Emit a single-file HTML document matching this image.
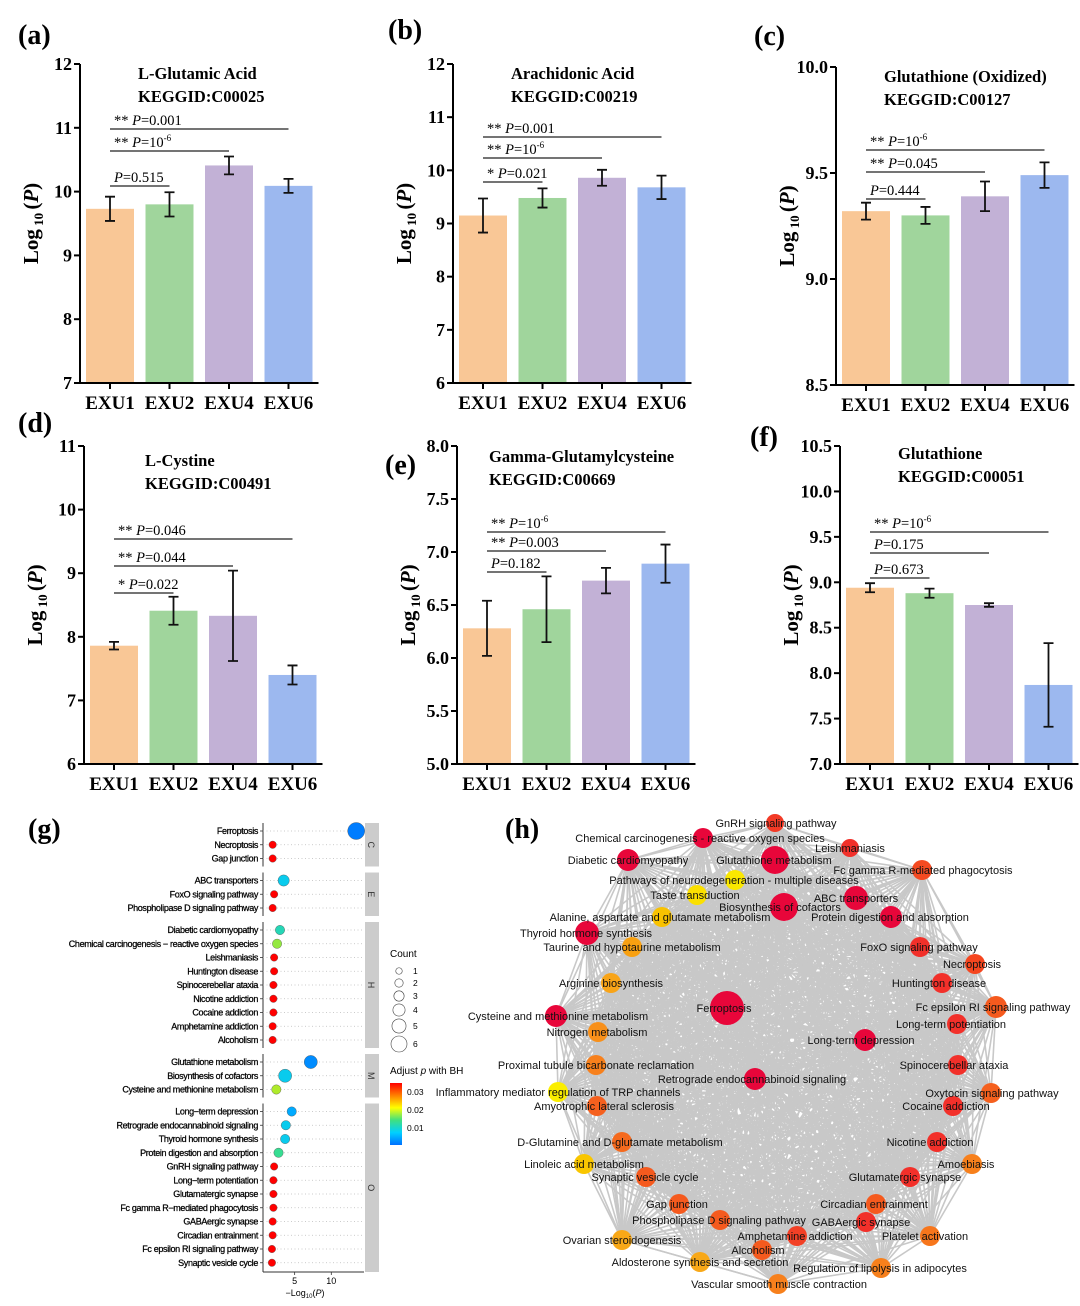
<!DOCTYPE html>
<html><head><meta charset="utf-8"><style>
html,body{margin:0;padding:0;background:#fff;}
svg{display:block;}
.serif{font-family:"Liberation Serif",serif;}
.sans{font-family:"Liberation Sans",sans-serif;}
</style></head>
<body>
<svg id="fig" width="1080" height="1306" viewBox="0 0 1080 1306" xmlns="http://www.w3.org/2000/svg"></svg>
<script>
// ---------- bar panel data ----------
const groups = ["EXU1","EXU2","EXU4","EXU6"];
const aValues = [9.73, 9.80, 10.41, 10.09];
const aErrors = [0.19, 0.19, 0.14, 0.11];
const aTicks = [7,8,9,10,11,12];
const bValues = [9.15, 9.48, 9.86, 9.68];
const bErrors = [0.32, 0.18, 0.15, 0.22];
const bTicks = [6,7,8,9,10,11,12];
const cValues = [9.32, 9.30, 9.39, 9.49];
const cErrors = [0.04, 0.04, 0.07, 0.06];
const cTicks = [8.5,9.0,9.5,10.0];
const dValues = [7.86, 8.41, 8.33, 7.40];
const dErrors = [0.06, 0.22, 0.71, 0.15];
const dTicks = [6,7,8,9,10,11];
const eValues = [6.28, 6.46, 6.73, 6.89];
const eErrors = [0.26, 0.31, 0.12, 0.18];
const eTicks = [5.0,5.5,6.0,6.5,7.0,7.5,8.0];
const fValues = [8.94, 8.88, 8.75, 7.87];
const fErrors = [0.05, 0.05, 0.02, 0.46];
const fTicks = [7.0,7.5,8.0,8.5,9.0,9.5,10.0,10.5];

// ---------- enrichment dot plot data (g) ----------
const gTerms = ["Ferroptosis","Necroptosis","Gap junction","ABC transporters","FoxO signaling pathway","Phospholipase D signaling pathway","Diabetic cardiomyopathy","Chemical carcinogenesis \u2212 reactive oxygen species","Leishmaniasis","Huntington disease","Spinocerebellar ataxia","Nicotine addiction","Cocaine addiction","Amphetamine addiction","Alcoholism","Glutathione metabolism","Biosynthesis of cofactors","Cysteine and methionine metabolism","Long\u2212term depression","Retrograde endocannabinoid signaling","Thyroid hormone synthesis","Protein digestion and absorption","GnRH signaling pathway","Long\u2212term potentiation","Glutamatergic synapse","Fc gamma R\u2212mediated phagocytosis","GABAergic synapse","Circadian entrainment","Fc epsilon RI signaling pathway","Synaptic vesicle cycle"];
const gGroups = ["C","C","C","E","E","E","H","H","H","H","H","H","H","H","H","M","M","M","O","O","O","O","O","O","O","O","O","O","O","O"];
const gLogP = [13.4,2.0,2.0,3.5,2.2,2.0,3.0,2.6,2.2,2.2,2.1,2.1,2.1,2.0,2.0,7.2,3.7,2.5,4.6,3.8,3.7,2.8,2.2,2.1,2.1,2.1,2.0,2.0,1.9,1.9];
const gCount = [6,1,1,3,1,1,2,2,1,1,1,1,1,1,1,4,4,2,2,2,2,2,1,1,1,1,1,1,1,1];
const gPadj = [0.003,0.034,0.034,0.009,0.034,0.034,0.012,0.018,0.034,0.034,0.034,0.034,0.034,0.034,0.034,0.004,0.009,0.019,0.006,0.009,0.009,0.014,0.034,0.034,0.034,0.034,0.034,0.034,0.034,0.034];
const gXTicks = [5,10];
const gCountLegend = [1,2,3,4,5,6];
const gPadjLegend = [0.03,0.02,0.01];

// ---------- network data (h) ----------
const hLabels = ["GnRH signaling pathway","Chemical carcinogenesis - reactive oxygen species","Leishmaniasis","Diabetic cardiomyopathy","Glutathione metabolism","Fc gamma R-mediated phagocytosis","Pathways of neurodegeneration - multiple diseases","Taste transduction","ABC transporters","Biosynthesis of cofactors","Protein digestion and absorption","Alanine, aspartate and glutamate metabolism","Thyroid hormone synthesis","Taurine and hypotaurine metabolism","FoxO signaling pathway","Necroptosis","Arginine biosynthesis","Huntington disease","Fc epsilon RI signaling pathway","Cysteine and methionine metabolism","Ferroptosis","Long-term potentiation","Nitrogen metabolism","Long-term depression","Spinocerebellar ataxia","Proximal tubule bicarbonate reclamation","Retrograde endocannabinoid signaling","Inflammatory mediator regulation of TRP channels","Amyotrophic lateral sclerosis","Oxytocin signaling pathway","Cocaine addiction","D-Glutamine and D-glutamate metabolism","Nicotine addiction","Linoleic acid metabolism","Amoebiasis","Synaptic vesicle cycle","Glutamatergic synapse","Gap junction","Circadian entrainment","Phospholipase D signaling pathway","GABAergic synapse","Amphetamine addiction","Platelet activation","Ovarian steroidogenesis","Alcoholism","Aldosterone synthesis and secretion","Regulation of lipolysis in adipocytes","Vascular smooth muscle contraction"];
const hNodeX = [775,703,850,628,775,922,735,697,856,784,891,662,587,632,920,975,611,942,996,556,727,957,598,865,958,596,755,558,597,991,953,622,937,584,972,646,910,679,876,720,866,797,930,622,762,700,881,778];
const hNodeY = [823,838,848,860,860,870,880,895,898,907,917,917,933,947,947,964,983,983,1007,1016,1008,1024,1032,1040,1065,1065,1079,1092,1106,1093,1106,1142,1142,1164,1164,1177,1177,1204,1204,1220,1222,1236,1236,1240,1250,1262,1268,1284];
const hLabelX = [776,700,850,628,774,923,734,695,856,780,890,660,586,632,919,972,611,939,993,558,724,951,597,861,954,596,752,558,604,992,946,620,930,584,966,645,905,677,874,719,861,795,925,622,758,700,880,779];
const hSize = [9,10,9,11,14,10,10,10,12,14,11,10,12,10,10,10,10,10,11,11,17,10,10,11,10,10,11,10,10,10,10,10,10,10,10,10,10,10,10,10,10,10,10,10,10,10,10,10];
const hColor = ["#f23a26","#e8063a","#f2302a","#e8063a","#e8063a","#f44a22","#fbe800","#fbe000","#e8063a","#e8063a","#e8063a","#f9c200","#e8063a","#f8a010","#f2302a","#f5461f","#f8a418","#f2302a","#f55a1e","#e8063a","#e8063a","#f2302a","#f8901a","#e8063a","#f2302a","#f7801c","#e8063a","#fbee00","#f5601e","#f5601e","#f2302a","#f56a1e","#f2302a","#f9c600","#f7801c","#f55a1e","#f2302a","#f55a1e","#f55a1e","#f55a1e","#f2302a","#f24026","#f7761c","#f8a818","#f55a1e","#f8a818","#f7801c","#f7801c"];

const NS = "http://www.w3.org/2000/svg";
const svg = document.getElementById("fig");
function mk(tag, attrs, parent){
  const e = document.createElementNS(NS, tag);
  for (const k in attrs) e.setAttribute(k, attrs[k]);
  (parent||svg).appendChild(e);
  return e;
}
const barColors = ["#f9c796","#a0d59c","#c2b1d6","#9cb8ef"];

function panelLabel(txt, x, y){
  const t = mk("text",{x:x,y:y,"font-size":28,"font-weight":"bold","class":"serif"});
  t.textContent = txt;
  
  
}

function barPanel(cfg, values, errors, ticks){
  const g = mk("g",{});
  
  
  const ymin = ticks[0], ymax = ticks[ticks.length-1];
  const Y = v => cfg.bottom - (v - ymin)/(ymax - ymin)*(cfg.bottom - cfg.top);
  const X = i => cfg.ax + 30 + i*59.5;
  values.forEach((v,i)=>{
    const r = mk("rect",{x:X(i)-24,y:Y(v),width:48,height:cfg.bottom-Y(v),fill:barColors[i]},g);
    
    
    const e = errors[i];
    const eb = mk("path",{d:`M${X(i)},${Y(v+e)}V${Y(v-e)}M${X(i)-5},${Y(v+e)}H${X(i)+5}M${X(i)-5},${Y(v-e)}H${X(i)+5}`,stroke:"#111","stroke-width":1.8,fill:"none"},g);
    
    
  });
  const ya = mk("line",{x1:cfg.ax,y1:cfg.top,x2:cfg.ax,y2:cfg.bottom,stroke:"#000","stroke-width":2},g);
  
  
  const xa = mk("line",{x1:cfg.ax-5,y1:cfg.bottom,x2:X(3)+30,y2:cfg.bottom,stroke:"#000","stroke-width":2},g);
  
  
  ticks.forEach(t=>{
    mk("line",{x1:cfg.ax-6,y1:Y(t),x2:cfg.ax,y2:Y(t),stroke:"#000","stroke-width":2},g);
    const tl = mk("text",{x:cfg.ax-8,y:Y(t)+6,"text-anchor":"end","font-size":18,"font-weight":"bold","class":"serif"},g);
    tl.textContent = cfg.dec ? t.toFixed(1) : String(t);
    
    
  });
  groups.forEach((gn,i)=>{
    mk("line",{x1:X(i),y1:cfg.bottom,x2:X(i),y2:cfg.bottom+6,stroke:"#000","stroke-width":2},g);
    const xl = mk("text",{x:X(i),y:cfg.bottom+26,"text-anchor":"middle","font-size":19,"font-weight":"bold","class":"serif"},g);
    xl.textContent = gn;
    
    
  });
  const yt = mk("text",{transform:`translate(${cfg.ax-42},${(cfg.top+cfg.bottom)/2}) rotate(-90)`,"text-anchor":"middle","font-size":21,"font-weight":"bold","class":"serif"},g);
  yt.innerHTML = 'Log<tspan font-size="13" dy="5"> 10 </tspan><tspan dy="-5">(</tspan><tspan font-style="italic">P</tspan>)';
  
  
  const t1 = mk("text",{x:cfg.tx,y:cfg.ty,"font-size":16.5,"font-weight":"bold","class":"serif"},g);
  t1.textContent = cfg.title;
  
  
  const t2 = mk("text",{x:cfg.tx,y:cfg.ty+23,"font-size":16.5,"font-weight":"bold","class":"serif"},g);
  t2.textContent = cfg.kegg;
  
  
  cfg.br.forEach(b=>{
    mk("line",{x1:X(0),y1:b.y,x2:X(b.to),y2:b.y,stroke:"#222","stroke-width":1.3},g);
    const bt = mk("text",{x:X(0)+4,y:b.y-4,"font-size":14.5,"class":"serif"},g);
    bt.innerHTML = b.txt;
    
    
  });
}
const P = '<tspan font-style="italic">P</tspan>';
const sup6 = '10<tspan font-size="9" dy="-6">-6</tspan>';
barPanel({name:"panel-a",ax:80,top:64,bottom:383,tx:138,ty:79,title:"L-Glutamic Acid",kegg:"KEGGID:C00025",
  br:[{y:129,to:3,txt:'** '+P+'=0.001'},{y:151,to:2,txt:'** '+P+'='+sup6},{y:186,to:1,txt:P+'=0.515'}]},aValues,aErrors,aTicks);
barPanel({name:"panel-b",ax:453,top:64,bottom:383,tx:511,ty:79,title:"Arachidonic Acid",kegg:"KEGGID:C00219",
  br:[{y:137,to:3,txt:'** '+P+'=0.001'},{y:158,to:2,txt:'** '+P+'='+sup6},{y:182,to:1,txt:'* '+P+'=0.021'}]},bValues,bErrors,bTicks);
barPanel({name:"panel-c",ax:836,top:67,bottom:385,tx:884,ty:82,dec:true,title:"Glutathione (Oxidized)",kegg:"KEGGID:C00127",
  br:[{y:150,to:3,txt:'** '+P+'='+sup6},{y:172,to:2,txt:'** '+P+'=0.045'},{y:199,to:1,txt:P+'=0.444'}]},cValues,cErrors,cTicks);
barPanel({name:"panel-d",ax:84,top:446,bottom:764,tx:145,ty:466,title:"L-Cystine",kegg:"KEGGID:C00491",
  br:[{y:539,to:3,txt:'** '+P+'=0.046'},{y:566,to:2,txt:'** '+P+'=0.044'},{y:593,to:1,txt:'* '+P+'=0.022'}]},dValues,dErrors,dTicks);
barPanel({name:"panel-e",ax:457,top:446,bottom:764,tx:489,ty:462,dec:true,title:"Gamma-Glutamylcysteine",kegg:"KEGGID:C00669",
  br:[{y:532,to:3,txt:'** '+P+'='+sup6},{y:551,to:2,txt:'** '+P+'=0.003'},{y:572,to:1,txt:P+'=0.182'}]},eValues,eErrors,eTicks);
barPanel({name:"panel-f",ax:840,top:446,bottom:764,tx:898,ty:459,dec:true,title:"Glutathione",kegg:"KEGGID:C00051",
  br:[{y:532,to:3,txt:'** '+P+'='+sup6},{y:553,to:2,txt:P+'=0.175'},{y:578,to:1,txt:P+'=0.673'}]},fValues,fErrors,fTicks);

panelLabel("(a)",18,44); panelLabel("(b)",388,39); panelLabel("(c)",754,45);
panelLabel("(d)",18,432); panelLabel("(e)",385,474); panelLabel("(f)",750,446);
panelLabel("(g)",28,838); panelLabel("(h)",505,838);

// ---------- panel g ----------
(function(){
  const g = mk("g",{"class":"sans"});
  
  
  const axX = 263, right = 364;
  const X = v => 258 + v*7.33;
  const stops = [[0,[0,80,255]],[0.008,[0,200,255]],[0.015,[64,224,128]],[0.021,[230,240,0]],[0.028,[255,128,0]],[0.033,[255,0,0]]];
  function col(p){
    if (p>=0.033) return "rgb(255,0,0)";
    for (let i=1;i<stops.length;i++){
      if (p<=stops[i][0]){
        const a=stops[i-1],b=stops[i],t=(p-a[0])/(b[0]-a[0]);
        const c=a[1].map((x,k)=>Math.round(x+(b[1][k]-x)*t));
        return `rgb(${c.join(',')})`;
      }
    }
  }
  const rad = c => 2.8 + c*0.95;
  const rowY = []; let y = 831, prev = gGroups[0];
  gGroups.forEach((gr,i)=>{ if(i>0){ y += (gr!==prev)?22:13.75; } rowY.push(y); prev = gr; });
  const grNames = ["C","E","H","M","O"];
  grNames.forEach(gn=>{
    const idx = gGroups.map((x,i)=>x===gn?i:-1).filter(i=>i>=0);
    const y0 = rowY[idx[0]]-8, y1 = (gn==="O") ? 1272 : rowY[idx[idx.length-1]]+8;
    mk("line",{x1:axX,y1:y0,x2:axX,y2:y1,stroke:"#333","stroke-width":1},g);
    const s = mk("rect",{x:365,y:y0,width:14,height:y1-y0,fill:"#cccccc"},g);
    
    
    const st = mk("text",{transform:`translate(368,${(y0+y1)/2}) rotate(90)`,"text-anchor":"middle","font-size":9,fill:"#333"},g);
    st.textContent = gn;
  });
  gTerms.forEach((term,i)=>{
    const yy = rowY[i];
    mk("line",{x1:axX,y1:yy,x2:right-2,y2:yy,stroke:"#bbb","stroke-width":0.8,"stroke-dasharray":"1 2.5"},g);
    mk("line",{x1:axX-3,y1:yy,x2:axX,y2:yy,stroke:"#333","stroke-width":0.8},g);
    const lt = mk("text",{x:axX-5,y:yy+3,"text-anchor":"end","font-size":9,"letter-spacing":"-0.35",stroke:"#000","stroke-width":0.25},g);
    lt.textContent = term;
    
    
    const c = mk("circle",{cx:X(gLogP[i]),cy:yy,r:rad(gCount[i]),fill:col(gPadj[i]),stroke:"#555","stroke-width":0.4},g);
    
    
  });
  mk("line",{x1:axX,y1:1272,x2:right,y2:1272,stroke:"#333","stroke-width":1},g);
  gXTicks.forEach(t=>{
    mk("line",{x1:X(t),y1:1272,x2:X(t),y2:1275,stroke:"#333","stroke-width":0.8},g);
    const tt = mk("text",{x:X(t),y:1284,"text-anchor":"middle","font-size":9},g);
    tt.textContent = t;
  });
  const xt = mk("text",{x:305,y:1296,"text-anchor":"middle","font-size":9},g);
  xt.innerHTML = '\u2212Log<tspan font-size="6" dy="2">10</tspan><tspan dy="-2">(</tspan><tspan font-style="italic">P</tspan>)';
  
  
  const ct = mk("text",{x:390,y:957,"font-size":10},g);
  ct.textContent = "Count";
  
  
  const ly = [971,983,996,1010,1026,1044];
  gCountLegend.forEach((c,i)=>{
    mk("circle",{cx:399,cy:ly[i],r:rad(c)-0.5,fill:"none",stroke:"#444","stroke-width":0.6},g);
    const t = mk("text",{x:413,y:ly[i]+3,"font-size":8.5},g);
    t.textContent = c;
  });
  const at = mk("text",{x:390,y:1074,"font-size":10},g);
  at.innerHTML = 'Adjust <tspan font-style="italic">p</tspan> with BH';
  
  
  const defs = mk("defs",{},g);
  const lg = mk("linearGradient",{id:"cb",x1:0,y1:0,x2:0,y2:1},defs);
  [["0","#ff0000"],["0.2","#ff8000"],["0.4","#ffff00"],["0.6","#40e080"],["0.8","#00d0ff"],["1","#0070ff"]].forEach(s=>mk("stop",{offset:s[0],"stop-color":s[1]},lg));
  const cb = mk("rect",{x:390,y:1083,width:12,height:62,fill:"url(#cb)"},g);
  
  
  gPadjLegend.forEach((p,i)=>{
    const t = mk("text",{x:407,y:1095+i*18,"font-size":8.5},g);
    t.textContent = p.toFixed(2);
  });
})();

// ---------- panel h network ----------
(function(){
  const g = mk("g",{"class":"sans"});
  
  
  const eg = mk("g",{stroke:"#c8c8c8","stroke-width":1.6},g);
  
  
  const n = hNodeX.length;
  for (let i=0;i<n;i++) for (let j=i+1;j<n;j++){
    mk("line",{x1:hNodeX[i],y1:hNodeY[i],x2:hNodeX[j],y2:hNodeY[j]},eg);
  }
  for (let i=0;i<n;i++){
    const c = mk("circle",{cx:hNodeX[i],cy:hNodeY[i],r:hSize[i],fill:hColor[i]},g);
    
    
  }
  for (let i=0;i<n;i++){
    const t = mk("text",{x:hLabelX[i],y:hNodeY[i]+4,"text-anchor":"middle","font-size":11,fill:"#111"},g);
    t.textContent = hLabels[i];
    
    
  }
})();
</script>
</body></html>
